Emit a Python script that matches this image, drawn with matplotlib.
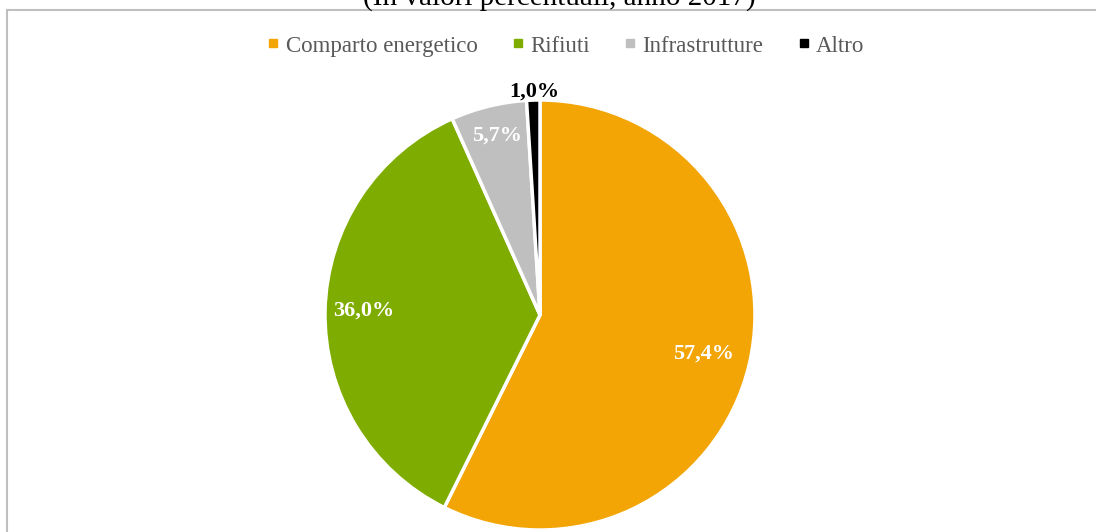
import matplotlib.pyplot as plt
import numpy as np
from matplotlib.lines import Line2D

# Data
categories = ["Comparto energetico", "Rifiuti", "Infrastrutture", "Altro"]
values = [57.4, 36.0, 5.7, 1.0]
labels = ["57,4%", "36,0%", "5,7%", "1,0%"]
colors = ["#F2A504", "#7FAC00", "#BFBFBF", "#000000"]
title = "(In valori percentuali, anno 2017)"

plt.rcParams["font.family"] = ["Liberation Serif", "DejaVu Serif"]

W, H = 1096, 532
fig = plt.figure(figsize=(W / 100, H / 100), dpi=100)

# pie axes: centre (540, 315) px, radius 215 px
cx, cy, r = 540, 315, 215
ax = fig.add_axes([(cx - r) / W, (H - cy - r) / H, 2 * r / W, 2 * r / H])
wedges, _ = ax.pie(values, colors=colors, startangle=90, counterclock=False,
                   wedgeprops=dict(edgecolor="white", linewidth=2.5))
ax.set_xlim(-1, 1)
ax.set_ylim(-1, 1)
ax.set_aspect("equal")
ax.axis("off")

# percentage labels
cum = np.cumsum([0] + values[:-1])
dist = [0.78, 0.82, 0.86, 1.04]
for i, (v, c0) in enumerate(zip(values, cum)):
    ang = np.deg2rad(90 - 3.6 * (c0 + v / 2))
    col = "black" if i == 3 else "white"
    ax.text(dist[i] * np.cos(ang), dist[i] * np.sin(ang), labels[i],
            ha="center", va="center", fontsize=16, fontweight="bold", color=col)

# legend
handles = [Line2D([], [], marker="s", linestyle="none", markersize=6,
                  markerfacecolor=c, markeredgecolor=c) for c in colors]
fig.legend(handles, categories, loc="center", bbox_to_anchor=(566 / W, 1 - 46 / H),
           ncol=4, frameon=False, fontsize=16.5, handlelength=0.5, handletextpad=0.3,
           columnspacing=1.5, labelcolor="#595959")

# title, cut off by the top edge as in the source
fig.text(559 / W, 1 - 5 / H, title, ha="center", va="baseline", fontsize=21)

# chart frame (partly outside the image)
fig.add_artist(Line2D([7 / W, 1], [1 - 10 / H, 1 - 10 / H], color="#BFBFBF", lw=1.5))
fig.add_artist(Line2D([7 / W, 7 / W], [0, 1 - 10 / H], color="#BFBFBF", lw=1.5))

fig.savefig("out.png", dpi=100)
